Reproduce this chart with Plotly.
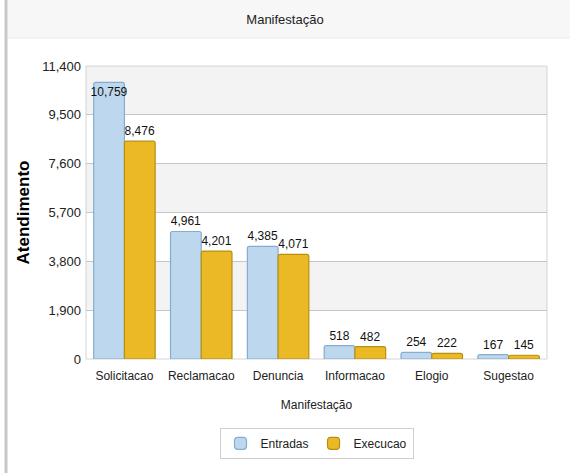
import plotly.graph_objects as go

categories = ["Solicitacao", "Reclamacao", "Denuncia", "Informacao", "Elogio", "Sugestao"]
entradas = [10759, 4961, 4385, 518, 254, 167]
execucao = [8476, 4201, 4071, 482, 222, 145]
y_ticks = [0, 1900, 3800, 5700, 7600, 9500, 11400]

FONT = "Liberation Sans"

fig = go.Figure()
fig.add_trace(go.Bar(
    name="Entradas", x=categories, y=entradas,
    marker=dict(color="#bdd8ee", line=dict(color="#86acd0", width=1.2), cornerradius=2),
    text=[f"{v:,}" for v in entradas],
    textposition=["inside"] + ["outside"] * (len(entradas) - 1),
    insidetextanchor="end", constraintext="none", textangle=0,
    textfont=dict(family=FONT, size=12, color="#111"), cliponaxis=False,
))
fig.add_trace(go.Bar(
    name="Execucao", x=categories, y=execucao,
    marker=dict(color="#eab925", line=dict(color="#b8900f", width=1.2), cornerradius=2),
    text=[f"{v:,}" for v in execucao], textposition="outside", constraintext="none",
    textangle=0,
    textfont=dict(family=FONT, size=12, color="#111"), cliponaxis=False,
))

shapes = []
# alternating horizontal bands
for i in range(len(y_ticks) - 1):
    if (len(y_ticks) - 2 - i) % 2 == 0:
        shapes.append(dict(type="rect", xref="paper", yref="y", x0=0, x1=1,
                           y0=y_ticks[i], y1=y_ticks[i + 1],
                           fillcolor="#f3f3f3", line=dict(width=0), layer="below"))
# plot frame
shapes.append(dict(type="rect", xref="paper", yref="paper", x0=0, x1=1, y0=0, y1=1,
                   line=dict(color="#d4d4d4", width=1), layer="below"))
# title band
shapes.append(dict(type="rect", xref="paper", yref="paper", x0=-0.17, x1=1.06,
                   y0=1.0956, y1=1.2253, fillcolor="#f7f7f7",
                   line=dict(width=0), layer="below"))
shapes.append(dict(type="line", xref="paper", yref="paper", x0=-0.17, x1=1.06,
                   y0=1.0956, y1=1.0956, line=dict(color="#ececec", width=1)))
# left border
shapes.append(dict(type="line", xref="paper", yref="paper", x0=-0.1735, x1=-0.1735,
                   y0=-0.4, y1=1.2253, line=dict(color="#c8c8c8", width=3)))

fig.update_layout(
    width=570, height=473,
    margin=dict(l=86, r=23, t=66, b=114),
    paper_bgcolor="white", plot_bgcolor="white",
    barmode="group", bargap=0.2, bargroupgap=0,
    font=dict(family=FONT, size=12, color="#222"),
    title=dict(text="Manifestação", x=0.5, xanchor="center", y=1 - 19 / 473,
               yanchor="middle", font=dict(family=FONT, size=13, color="#222")),
    xaxis=dict(title=dict(text="Manifestação", font=dict(size=12), standoff=18),
               showgrid=False, showline=False, ticks="", ticklabelstandoff=8,
               tickfont=dict(size=12)),
    yaxis=dict(title=dict(text="<b>Atendimento</b>", font=dict(size=17, color="#000"), standoff=8),
               range=[0, 11400], tickvals=y_ticks, tickformat=",",
               showgrid=True, gridcolor="#c6c6c6", gridwidth=1,
               zeroline=False, showline=False, ticks="", ticklabelstandoff=4,
               tickfont=dict(size=13)),
    legend=dict(orientation="h", x=0.5, xanchor="center", y=-0.235, yanchor="top",
                bordercolor="#cfcfcf", borderwidth=1, bgcolor="white",
                font=dict(size=12), itemwidth=30),
    shapes=shapes,
)

fig.write_html("out.html", config={"displayModeBar": False},
               post_script="document.body.style.margin='0';")
